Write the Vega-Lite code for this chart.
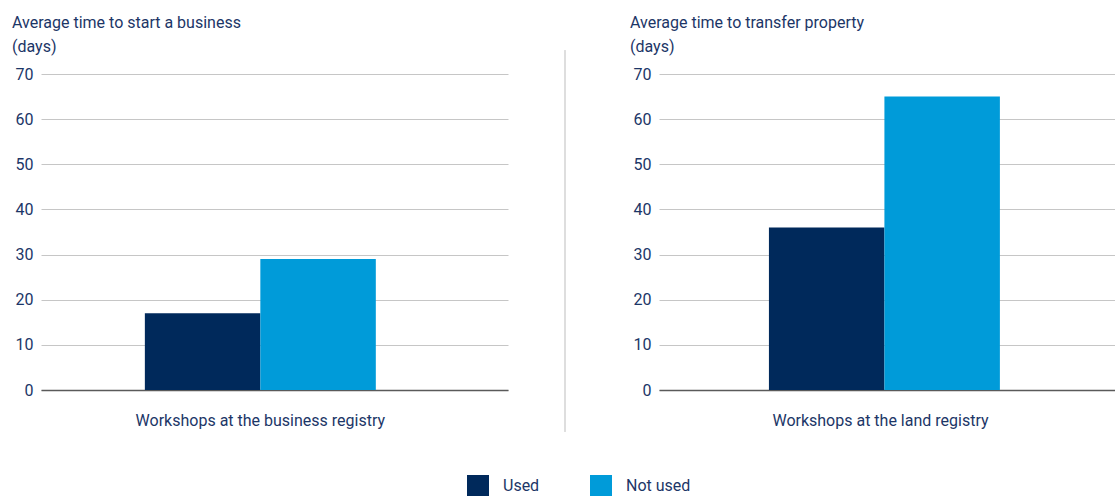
{
  "$schema": "https://vega.github.io/schema/vega-lite/v6.json",
  "padding": {"left": 12, "top": 15, "right": 0, "bottom": 0},
  "background": "white",
  "config": {
    "font": "Roboto",
    "view": {"stroke": null},
    "axisY": {"grid": true, "gridColor": "#c6c6c6", "gridWidth": 1, "domain": false, "ticks": false, "labelPadding": 8, "labelFontSize": 16, "labelColor": "#1c3667", "labelFont": "Roboto"},
    "axisX": {"grid": false, "domain": true, "domainColor": "#5a5a5a", "domainWidth": 1.5, "ticks": false, "labelPadding": 22, "labelFontSize": 16, "labelColor": "#1c3667", "labelFont": "Roboto", "labelLimit": 0},
    "title": {"anchor": "start", "frame": "bounds", "fontSize": 16, "fontWeight": "normal", "color": "#1c3667", "lineHeight": 24, "offset": 11, "dx": -3, "font": "Roboto"}
  },
  "datasets": {
    "start": [
      {"registry": "Workshops at the business registry", "status": "Used", "days": 17},
      {"registry": "Workshops at the business registry", "status": "Not used", "days": 29}
    ],
    "transfer": [
      {"registry": "Workshops at the land registry", "status": "Used", "days": 36},
      {"registry": "Workshops at the land registry", "status": "Not used", "days": 65}
    ],
    "divider": [
      {"pos": 0, "top": 75.3, "bottom": -9.3}
    ]
  },
  "bounds": "flush",
  "spacing": 57,
  "hconcat": [
    {
      "width": 467,
      "height": 316,
      "title": {"text": ["Average time to start a business", "(days)"]},
      "data": {"name": "start"},
      "mark": {"type": "bar"},
      "encoding": {
        "x": {"field": "registry", "type": "nominal", "scale": {"paddingOuter": 0.511, "paddingInner": 0, "align": 0.44}, "axis": {"title": null, "labelAngle": 0}},
        "xOffset": {"field": "status", "type": "nominal", "sort": ["Used", "Not used"], "scale": {"paddingInner": 0, "paddingOuter": 0}},
        "y": {"field": "days", "type": "quantitative", "scale": {"domain": [0, 70], "nice": false}, "axis": {"title": null, "values": [0, 10, 20, 30, 40, 50, 60, 70]}},
        "color": {"field": "status", "type": "nominal", "sort": ["Used", "Not used"], "scale": {"domain": ["Used", "Not used"], "range": ["#00295b", "#009bd9"]},
          "legend": {"orient": "none", "legendX": 426, "legendY": 401, "direction": "horizontal", "title": null, "symbolType": "square", "symbolSize": 484, "symbolStrokeWidth": 0, "symbolOpacity": 1, "labelFontSize": 16, "labelColor": "#1c3667", "labelFont": "Roboto", "labelOffset": 14, "columnPadding": 50, "padding": 0}}
      }
    },
    {
      "width": 37,
      "height": 316,
      "data": {"name": "divider"},
      "mark": {"type": "rule", "color": "#bdbdbd", "strokeWidth": 1},
      "encoding": {
        "x": {"field": "pos", "type": "quantitative", "scale": {"domain": [0, 1], "nice": false, "zero": false}, "axis": null},
        "y": {"field": "top", "type": "quantitative", "scale": {"domain": [0, 70], "nice": false, "zero": false}, "axis": null},
        "y2": {"field": "bottom"}
      }
    },
    {
      "width": 456,
      "height": 316,
      "title": {"text": ["Average time to transfer property", "(days)"]},
      "data": {"name": "transfer"},
      "mark": {"type": "bar"},
      "encoding": {
        "x": {"field": "registry", "type": "nominal", "scale": {"paddingOuter": 0.522, "paddingInner": 0, "align": 0.472}, "axis": {"title": null, "labelAngle": 0}},
        "xOffset": {"field": "status", "type": "nominal", "sort": ["Used", "Not used"], "scale": {"paddingInner": 0, "paddingOuter": 0}},
        "y": {"field": "days", "type": "quantitative", "scale": {"domain": [0, 70], "nice": false}, "axis": {"title": null, "values": [0, 10, 20, 30, 40, 50, 60, 70]}},
        "color": {"field": "status", "type": "nominal", "sort": ["Used", "Not used"], "scale": {"domain": ["Used", "Not used"], "range": ["#00295b", "#009bd9"]}}
      }
    }
  ]
}
